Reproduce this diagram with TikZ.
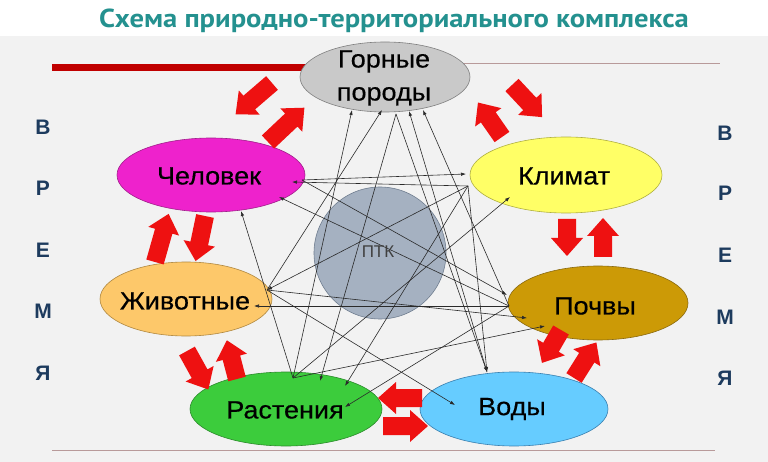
\documentclass[tikz,border=0pt]{standalone}
\usepackage{fontspec}
\setmainfont{Liberation Sans}
\newfontfamily\titlefont[FakeStretch=1.1]{PT Sans}
\newfontfamily\lblfont[FakeStretch=1.08,FakeBold=0.4]{Liberation Sans}
\usetikzlibrary{shapes.geometric,arrows.meta}
\definecolor{bgc}{HTML}{F2F2F2}
\definecolor{titc}{HTML}{24918F}
\definecolor{navyc}{HTML}{1D3B5E}
\definecolor{linec}{HTML}{2A2A2A}
\definecolor{arrred}{HTML}{EE1111}
\definecolor{topred}{HTML}{C00000}
\definecolor{thinc}{HTML}{B89A9A}
\definecolor{gpf}{HTML}{C9C9C9}\definecolor{gpd}{HTML}{7F7F7F}
\definecolor{chf}{HTML}{EE22CC}\definecolor{chd}{HTML}{A0208A}
\definecolor{klf}{HTML}{FFFF66}\definecolor{kld}{HTML}{B0B040}
\definecolor{zhf}{HTML}{FDC86A}\definecolor{zhd}{HTML}{B08840}
\definecolor{pof}{HTML}{CC9A06}\definecolor{pod}{HTML}{8A6A10}
\definecolor{rsf}{HTML}{3CCC3C}\definecolor{rsd}{HTML}{2A8A2A}
\definecolor{vof}{HTML}{66CCFF}\definecolor{vod}{HTML}{3A80B0}
\definecolor{ptf}{HTML}{A5B1C1}\definecolor{ptd}{HTML}{6F7D8F}
\newcommand\bigarr[3]{% tail, angle, length
  \begin{scope}[shift={#1},rotate=#2]
    \fill[barr] (0,-9)--(#3-18,-9)--(#3-18,-16)--(#3,0)--(#3-18,16)--(#3-18,9)--(0,9)--cycle;
  \end{scope}}
\begin{document}
\begin{tikzpicture}[x=1pt,y=-1pt,
  ell/.style={ellipse, draw, line width=0.6pt, inner sep=0pt},
  lbl/.style={font=\lblfont\fontsize{25}{33}\selectfont, text=black, align=center},
  side/.style={font=\fontsize{21}{22}\selectfont\bfseries, text=navyc},
  conn/.style={draw=linec, line width=0.6pt, -{Latex[length=5pt,width=3.5pt]}},
  barr/.style={fill=arrred}]
\useasboundingbox (0,0) rectangle (768,462);
\fill[white] (0,0) rectangle (768,462);
\fill[bgc] (0,36) rectangle (768,462);
% title
\node[font=\titlefont\bfseries\fontsize{26}{30}\selectfont, text=titc] (title) at (394,21) {Схема природно-территориального комплекса};
% horizontal rules
\draw[line width=7pt, topred] (52,68) -- (330,68);
\draw[line width=1pt, thinc] (440,64) -- (720,64);
\draw[line width=1pt, thinc] (52,450) -- (715,450);
% side letters
\foreach \l/\yy [count=\i] in {В/127,Р/188,Е/250,М/311,Я/373}{
  \node[side] (L\i) at (43,\yy) {\l};}
\foreach \l/\yy [count=\i] in {В/133,Р/193,Е/255,М/317,Я/378}{
  \node[side] (R\i) at (725,\yy) {\l};}
% ellipses
\node[ell, fill=gpf, draw=gpd, minimum width=170, minimum height=70] (gp) at (385,77) {};
\node[ell, fill=chf, draw=chd, minimum width=188, minimum height=74] (ch) at (211,175) {};
\node[ell, fill=klf, draw=kld, minimum width=192, minimum height=76] (kl) at (566,175) {};
\node[ell, fill=zhf, draw=zhd, minimum width=172, minimum height=74] (zh) at (186,299) {};
\node[ell, fill=pof, draw=pod, minimum width=180, minimum height=74] (po) at (598,303) {};
\node[ell, fill=rsf, draw=rsd, minimum width=192, minimum height=74] (rs) at (286,409) {};
\node[ell, fill=vof, draw=vod, minimum width=188, minimum height=74] (vo) at (514,409) {};
\node[circle, fill=ptf, draw=ptd, line width=0.6pt, minimum size=132, inner sep=0pt] (ptk) at (380,253) {};
% block arrows
\bigarr{(272,83)}{-139.3}{48}
\bigarr{(268,142)}{43.3}{50}
\bigarr{(502,137)}{124.9}{42}
\bigarr{(512,85)}{-46.9}{44}
\bigarr{(567,219)}{-90}{37}
\bigarr{(603,257)}{90}{39}
\bigarr{(561,330)}{-120.1}{38}
\bigarr{(574,378)}{57.8}{42}
\bigarr{(422,398)}{180}{44}
\bigarr{(383,426)}{0}{45}
\bigarr{(187,351)}{-61}{44}
\bigarr{(237,379)}{104.7}{40}
\bigarr{(155,262)}{74.2}{50}
\bigarr{(205,216)}{-101.8}{46}
% connector points
\coordinate (gpA) at (352,110); \coordinate (gpB) at (382,110);
\coordinate (gpC) at (409,111); \coordinate (gpD) at (423,110);
\coordinate (gpS) at (396,114);
\coordinate (chA) at (292,182); \coordinate (chB) at (279,197);
\coordinate (chC) at (241,211); \coordinate (chS) at (302,180);
\coordinate (klA) at (466,174); \coordinate (klH) at (468,186);
\coordinate (klB) at (510,197);
\coordinate (zhH) at (267,290); \coordinate (zhA) at (254,306);
\coordinate (poH) at (509,306); \coordinate (poT) at (507,295);
\coordinate (poA) at (527,318); \coordinate (poB) at (545,326);
\coordinate (rsH) at (293,378); \coordinate (rsA) at (320,381);
\coordinate (rsB) at (345,386); \coordinate (rsC) at (345,407);
\coordinate (voH) at (487,372); \coordinate (voA) at (455,405);
% connectors
\draw[conn] (rsH) -- (gpA);
\draw[conn] (zhH) -- (gpB);
\draw[conn] (voH) -- (gpC);
\draw[conn] (poH) -- (gpD);
\draw[conn] (gpS) -- (rsA);
\draw[conn] (gpS) -- (voH);
\draw[conn] (chS) -- (klA);
\draw[conn] (klH) -- (chA);
\draw[conn] (klH) -- (zhH);
\draw[conn] (klH) -- (rsB);
\draw[conn] (klH) -- (voH);
\draw[conn] (rsH) -- (klB);
\draw[conn] (rsH) -- (chC);
\draw[conn] (poH) -- (zhA);
\draw[conn] (zhH) -- (poA);
\draw[conn] (zhH) -- (voA);
\draw[conn] (poH) -- (rsC);
\draw[conn] (rsH) -- (poB);
\draw[conn] (poH) -- (chB);
\draw[conn] (chS) -- (poT);
% labels
\node[lbl] (tgp) at (384,78) {Горные\\породы};
\node[lbl] (tch) at (209,176) {Человек};
\node[lbl] (tkl) at (564,176) {Климат};
\node[lbl] (tzh) at (185,301) {Животные};
\node[lbl] (tpo) at (595,306) {Почвы};
\node[lbl] (trs) at (285,410) {Растения};
\node[lbl] (tvo) at (512,409) {Воды};
\node[font=\fontsize{17}{18}\selectfont, text=black!75] (tptk) at (378,252) {ПТК};
\end{tikzpicture}
\end{document}
